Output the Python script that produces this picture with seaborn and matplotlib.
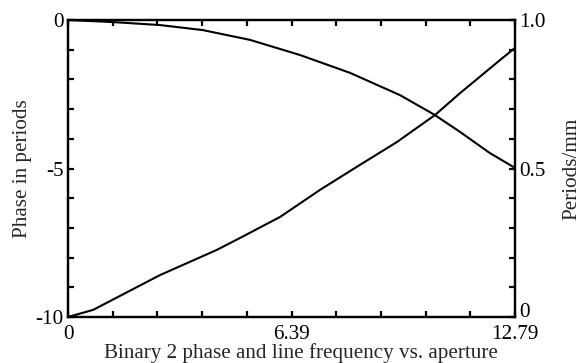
import matplotlib
matplotlib.use("Agg")
import matplotlib.pyplot as plt
import seaborn as sns
import pandas as pd
import numpy as np

# ---- data ----
phase_x = [0, 1.29, 2.63, 3.86, 5.21, 6.64, 8.07, 9.50, 10.47, 11.22, 12.07, 12.79]
phase_y = [0, -0.07, -0.17, -0.34, -0.67, -1.18, -1.78, -2.53, -3.18, -3.77, -4.48, -4.98]

freq_x = [0, 0.72, 2.63, 4.26, 4.92, 6.07, 7.21, 8.35, 9.41, 10.50, 11.22, 12.36, 12.79]
freq_y = [0, 0.024, 0.141, 0.226, 0.266, 0.337, 0.428, 0.512, 0.589, 0.680, 0.754, 0.865, 0.906]

x_tick_vals = [0, 6.395, 12.79]
x_tick_labels = ["0", "6.39", "12.79"]
left_tick_vals = [-10, -5, 0]
left_tick_labels = ["-10", "-5", "0"]
right_tick_vals = [0, 0.5, 1.0]
right_tick_labels = ["0", "0.5", "1.0"]

x_label = "Binary 2 phase and line frequency vs. aperture"
left_label = "Phase in periods"
right_label = "Periods/mm"

# ---- style ----
sns.set_style("ticks")
plt.rcParams["font.family"] = ["Liberation Serif", "DejaVu Serif"]
FS = 15.2

fig = plt.figure(figsize=(5.81, 3.63), dpi=100)
ax = fig.add_axes([68 / 581, 1 - 317 / 363, (515 - 68) / 581, (317 - 20) / 363])

df_phase = pd.DataFrame({"x": phase_x, "y": phase_y})
df_freq = pd.DataFrame({"x": freq_x, "y": freq_y})

sns.lineplot(data=df_phase, x="x", y="y", ax=ax, color="black", lw=1.5)
ax.set_xlim(0, 12.79)
ax.set_ylim(-10, 0)

ax2 = ax.twinx()
sns.lineplot(data=df_freq, x="x", y="y", ax=ax2, color="black", lw=1.5)
ax2.set_ylim(0, 1.0)
ax2.set_xlim(0, 12.79)

for a in (ax, ax2):
    for s in a.spines.values():
        s.set_visible(True)
        s.set_linewidth(1.6)
        s.set_color("black")

ax.set_xticks(x_tick_vals)
ax.set_xticklabels(x_tick_labels, fontsize=FS)
ax.set_xticks(np.linspace(0, 12.79, 11), minor=True)
ax.set_yticks(left_tick_vals)
ax.set_yticklabels(left_tick_labels, fontsize=FS)
ax.set_yticks(np.arange(-10, 0.1, 1), minor=True)
ax2.set_yticks(right_tick_vals)
ax2.set_yticklabels(right_tick_labels, fontsize=FS)
ax2.set_yticks(np.arange(0, 1.01, 0.1), minor=True)
ax2.get_yticklabels()[0].set_va("baseline")

ax.tick_params(axis="both", which="both", direction="in", length=4.5, width=1.6,
               top=True, bottom=True, left=True, right=False, pad=3, colors="black")
ax.tick_params(axis="x", which="both", pad=6)
ax2.tick_params(axis="y", which="both", direction="in", length=4.5, width=1.6,
                left=False, right=True, pad=3, colors="black")

ax.set_xlabel(x_label, fontsize=FS, labelpad=-1)
ax.xaxis.label.set_x(0.52)
ax.set_ylabel(left_label, fontsize=FS, labelpad=3)
ax2.set_ylabel(right_label, fontsize=FS, labelpad=12)

fig.savefig("out.png", dpi=100)
